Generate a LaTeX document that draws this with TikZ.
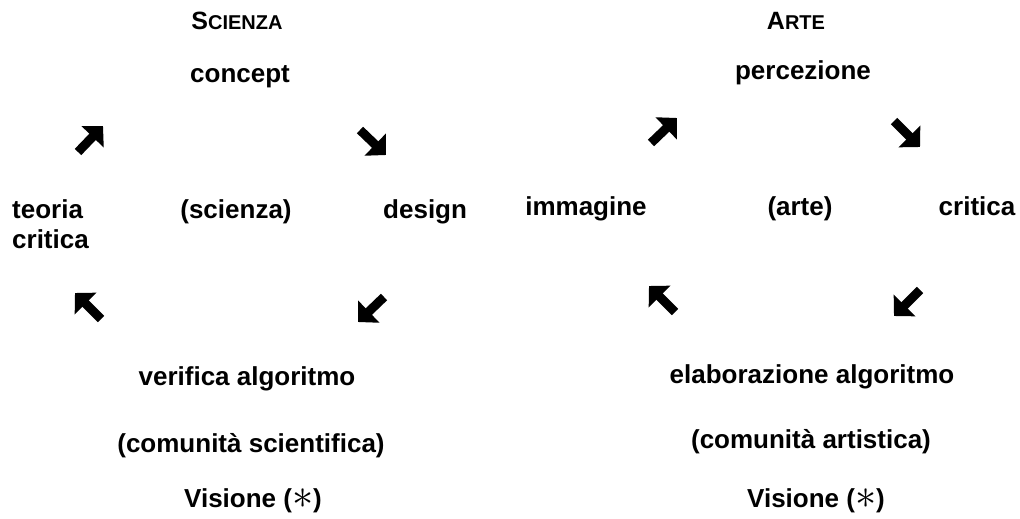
\documentclass[tikz,border=0pt]{standalone}
\usepackage{fontspec}
\setmainfont{Liberation Sans}
\usetikzlibrary{arrows.meta}
\newcommand{\smallcapsfake}[2]{{\fontsize{25}{30}\selectfont #1}{\fontsize{20}{30}\selectfont #2}}
\newcommand{\bigast}{\raisebox{-1.5pt}{\scalebox{1.7}{$\ast$}}}

\begin{document}
\begin{tikzpicture}[x=1pt,y=-1pt,
  lbl/.style={anchor=base,inner sep=0pt,font=\fontsize{26}{30}\selectfont\bfseries},
  ttl/.style={anchor=base,inner sep=0pt,font=\bfseries},
  blockarrow/.style={line width=9pt,-{Triangle[width=30pt,length=15pt]}}]
\useasboundingbox (0,0) rectangle (1020,519);
% scienza
\node[ttl] (tsci) at (237,30) {\smallcapsfake{S}{CIENZA}};
\node[lbl] (concept) at (240,82) {concept};
\node[lbl,anchor=base west,align=left] (teoria) at (12,248) {teoria\\critica};
\node[lbl] (csci) at (236,218) {(scienza)};
\node[lbl,anchor=base west] (design) at (383,218) {design};
\node[lbl] (verifica) at (247,385) {verifica algoritmo};
\node[lbl] (comsci) at (251,452) {(comunità scientifica)};
\node[lbl] (vissci) at (253,507) {Visione (\bigast)};
\coordinate (ne1a) at (78,152);  \coordinate (ne1b) at (103,126);
\coordinate (se1a) at (360,130); \coordinate (se1b) at (386,155);
\coordinate (nw1a) at (101,319); \coordinate (nw1b) at (75,293);
\coordinate (sw1a) at (384,297); \coordinate (sw1b) at (358,322);
\draw[blockarrow] (ne1a) -- (ne1b);
\draw[blockarrow] (se1a) -- (se1b);
\draw[blockarrow] (nw1a) -- (nw1b);
\draw[blockarrow] (sw1a) -- (sw1b);
% arte
\node[ttl] (tart) at (796,30) {\smallcapsfake{A}{RTE}};
\node[lbl] (percezione) at (803,80) {percezione};
\node[lbl] (immagine) at (586,215) {immagine};
\node[lbl] (cart) at (800,215) {(arte)};
\node[lbl] (critica) at (977,215) {critica};
\node[lbl] (elab) at (812,383) {elaborazione algoritmo};
\node[lbl] (comart) at (811,448) {(comunità artistica)};
\node[lbl] (visart) at (816,507) {Visione (\bigast)};
\coordinate (ne2a) at (651,143); \coordinate (ne2b) at (677,118);
\coordinate (se2a) at (894,121); \coordinate (se2b) at (920,147);
\coordinate (nw2a) at (675,312); \coordinate (nw2b) at (649,286);
\coordinate (sw2a) at (920,290); \coordinate (sw2b) at (894,316);
\draw[blockarrow] (ne2a) -- (ne2b);
\draw[blockarrow] (se2a) -- (se2b);
\draw[blockarrow] (nw2a) -- (nw2b);
\draw[blockarrow] (sw2a) -- (sw2b);
\end{tikzpicture}
\end{document}
